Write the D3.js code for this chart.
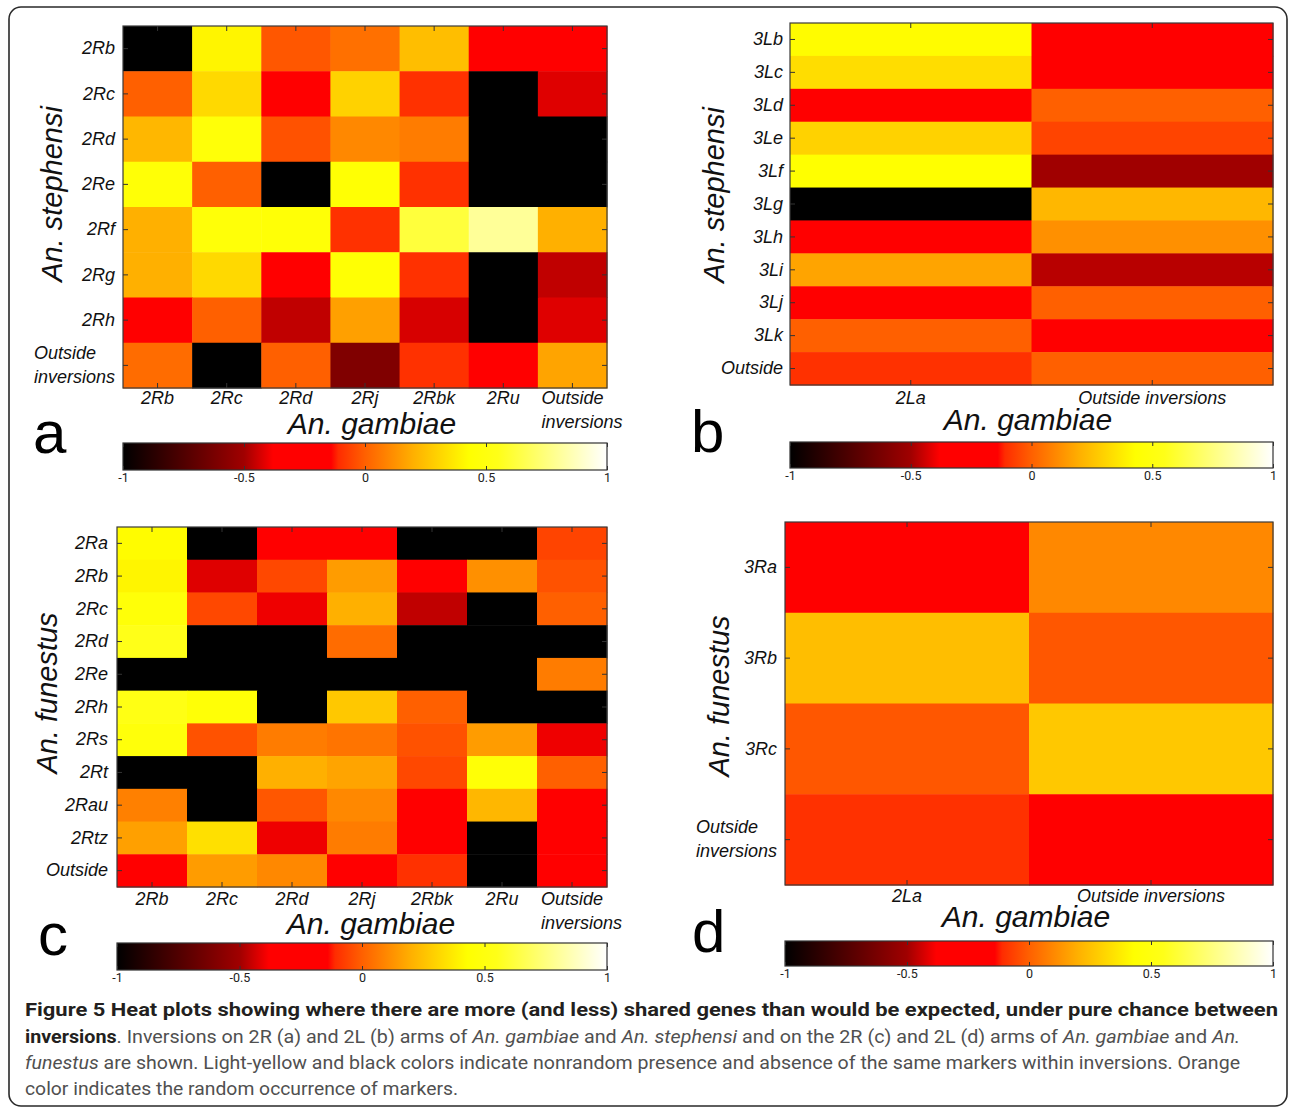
<!DOCTYPE html>
<html>
<head>
<meta charset="utf-8">
<script src="https://cdn.jsdelivr.net/npm/d3@7"></script>
<style>
  body { margin: 0; background: #fff; }
  svg { display: block; }
  .tick-lbl { font-family: Arial, "Liberation Sans", Roboto, sans-serif; font-style: italic; font-size: 18px; fill: #111; }
  .cb-lbl { font-family: "Liberation Sans Narrow", "Roboto", Arial, sans-serif; font-size: 12.5px; fill: #222; }
  .cap { font-family: "Roboto", Arial, sans-serif; font-size: 18px; }
  .big { font-family: Arial, "Liberation Sans", Roboto, sans-serif; }
</style>
</head>
<body>
<div id="chart"></div>
<script>
// ---- data ----
const gambiae2R = ["2Rb", "2Rc", "2Rd", "2Rj", "2Rbk", "2Ru", "Outside\ninversions"];
const gambiae2L = ["2La", "Outside inversions"];

const stephensi2R = ["2Rb", "2Rc", "2Rd", "2Re", "2Rf", "2Rg", "2Rh", "Outside\ninversions"];
const stephensi3L = ["3Lb", "3Lc", "3Ld", "3Le", "3Lf", "3Lg", "3Lh", "3Li", "3Lj", "3Lk", "Outside"];
const funestus2R = ["2Ra", "2Rb", "2Rc", "2Rd", "2Re", "2Rh", "2Rs", "2Rt", "2Rau", "2Rtz", "Outside"];
const funestus3R = ["3Ra", "3Rb", "3Rc", "Outside\ninversions"];

// rows = stephensi / funestus inversions, columns = gambiae inversions
const valuesA = [
  [-1, 0.40, -0.02, 0.04, 0.24, -0.2, -0.2],
  [0.0, 0.32, -0.2, 0.30, -0.1, -1, -0.42],
  [0.22, 0.47, -0.03, 0.1, 0.07, -1, -1],
  [0.46, 0.0, -1, 0.45, -0.1, -1, -1],
  [0.2, 0.47, 0.46, -0.1, 0.62, 0.8, 0.2],
  [0.2, 0.32, -0.2, 0.45, -0.1, -1, -0.46],
  [-0.2, 0.0, -0.46, 0.16, -0.43, -1, -0.42],
  [0.03, -1, 0.0, -0.6, -0.1, -0.2, 0.17]
];
const valuesB = [
  [0.42, -0.2],
  [0.33, -0.2],
  [-0.2, 0.0],
  [0.3, -0.06],
  [0.43, -0.5],
  [-1, 0.22],
  [-0.2, 0.12],
  [0.17, -0.47],
  [-0.2, 0.0],
  [0.0, -0.2],
  [-0.1, 0.0]
];
const valuesC = [
  [0.42, -1, -0.2, -0.2, -1, -1, -0.06],
  [0.40, -0.42, -0.05, 0.15, -0.2, 0.12, -0.03],
  [0.47, -0.05, -0.4, 0.2, -0.46, -1, 0.0],
  [0.55, -1, -1, 0.03, -1, -1, -1],
  [-1, -1, -1, -1, -1, -1, 0.07],
  [0.53, 0.46, -1, 0.27, 0.0, -1, -1],
  [0.48, -0.03, 0.07, 0.05, -0.03, 0.15, -0.4],
  [-1, -1, 0.2, 0.17, -0.05, 0.46, 0.0],
  [0.08, -1, -0.02, 0.1, -0.2, 0.22, -0.2],
  [0.16, 0.34, -0.4, 0.07, -0.2, -1, -0.2],
  [-0.2, 0.15, 0.1, -0.2, -0.1, -1, -0.2]
];
const valuesD = [
  [-0.2, 0.1],
  [0.24, -0.02],
  [-0.02, 0.27],
  [-0.1, -0.2]
];

const colorbarTicks = [-1, -0.5, 0, 0.5, 1];

// colour map as seen on the colour bars
const cmapStops = [-1, -0.5, -0.38, -0.14, -0.11, 0, 0.2, 0.43, 0.55, 1];
const cmapColors = ["#000000", "#a00000", "#ff0000", "#ff0000", "#ff2c00", "#ff6000", "#ffb000", "#ffff00", "#ffff18", "#ffffff"];
const color = d3.scaleLinear().domain(cmapStops).range(cmapColors).clamp(true);

const W = 1290, H = 1109;
const svg = d3.select("#chart").append("svg").attr("width", W).attr("height", H);
svg.append("rect").attr("width", W).attr("height", H).attr("fill", "#fff");

// outer frame
svg.append("rect")
  .attr("x", 9).attr("y", 7).attr("width", 1278).attr("height", 1099)
  .attr("rx", 12).attr("fill", "none").attr("stroke", "#2a2a2a").attr("stroke-width", 1.6);

const defs = svg.append("defs");
const grad = defs.append("linearGradient").attr("id", "cmap");
cmapStops.forEach((s, i) => {
  grad.append("stop").attr("offset", ((s + 1) / 2 * 100) + "%").attr("stop-color", cmapColors[i]);
});

const panels = [
  { letter: "a", rows: stephensi2R, cols: gambiae2R, values: valuesA,
    x0: 123, x1: 607, y0: 26, y1: 388, xPad: 3, yPad: 8,
    yTitle: "An. stephensi", yTitleX: 62, yTitleY: 194, xTitleX: 372, xTitleY: 434,
    letterX: 33, letterY: 453, cb: { x0: 123, x1: 607, y0: 443, y1: 470 } },
  { letter: "b", rows: stephensi3L, cols: gambiae2L, values: valuesB,
    x0: 790, x1: 1273, y0: 23, y1: 385, xPad: 6, yPad: 7,
    yTitle: "An. stephensi", yTitleX: 724, yTitleY: 195, xTitleX: 1028, xTitleY: 430,
    letterX: 691, letterY: 452, cb: { x0: 790, x1: 1273, y0: 442, y1: 468 } },
  { letter: "c", rows: funestus2R, cols: gambiae2R, values: valuesC,
    x0: 117, x1: 607, y0: 527, y1: 887, xPad: 5, yPad: 9,
    yTitle: "An. funestus", yTitleX: 57, yTitleY: 693, xTitleX: 371, xTitleY: 934,
    letterX: 38, letterY: 955, cb: { x0: 117, x1: 607, y0: 943, y1: 970 } },
  { letter: "d", rows: funestus3R, cols: gambiae2L, values: valuesD,
    x0: 785, x1: 1273, y0: 522, y1: 885, xPad: 4, yPad: 8,
    yTitle: "An. funestus", yTitleX: 729, yTitleY: 696, xTitleX: 1026, xTitleY: 927,
    letterX: 692, letterY: 952, cb: { x0: 785, x1: 1273, y0: 941, y1: 966 } }
];

const lineGap = 24;

function splitYLabels(axisG) {
  axisG.selectAll(".tick text").each(function(d) {
    const lines = d.split("\n");
    if (lines.length < 2) return;
    const t = d3.select(this);
    const x = +t.attr("x");
    t.text(null).attr("dy", null);
    lines.forEach((l, i) => {
      t.append("tspan").attr("x", x)
        .attr("y", (i - (lines.length - 1) / 2) * lineGap)
        .attr("dy", "0.32em").text(l);
    });
    // left-align the block so the longest line ends at the tick padding
    const widest = d3.max(t.selectAll("tspan").nodes(), n => n.getComputedTextLength());
    t.attr("text-anchor", "start");
    t.selectAll("tspan").attr("x", x - widest);
  });
}

function splitXLabels(axisG) {
  axisG.selectAll(".tick text").each(function(d) {
    const lines = d.split("\n");
    if (lines.length < 2) return;
    const t = d3.select(this);
    const y = +t.attr("y");
    t.text(null).attr("dy", null);
    lines.forEach((l, i) => {
      t.append("tspan").attr("x", 0).attr("y", y + i * lineGap).attr("dy", "0.71em").text(l);
    });
    const first = t.select("tspan").node().getComputedTextLength();
    t.attr("text-anchor", "start");
    t.selectAll("tspan").attr("x", -first / 2);
  });
}

function drawPanel(p) {
  const g = svg.append("g");
  const x = d3.scaleBand().domain(p.cols).range([p.x0, p.x1]);
  const y = d3.scaleBand().domain(p.rows).range([p.y0, p.y1]);

  const cells = p.values.flatMap((row, i) => row.map((v, j) => ({ r: p.rows[i], c: p.cols[j], v })));
  g.selectAll("rect.cell").data(cells).enter().append("rect")
    .attr("class", "cell")
    .attr("x", d => x(d.c))
    .attr("y", d => y(d.r))
    .attr("width", x.bandwidth() + 0.5)
    .attr("height", y.bandwidth() + 0.5)
    .attr("fill", d => color(d.v));

  g.append("rect")
    .attr("x", p.x0).attr("y", p.y0).attr("width", p.x1 - p.x0).attr("height", p.y1 - p.y0)
    .attr("fill", "none").attr("stroke", "#3a3a3a").attr("stroke-width", 1.2);

  const gl = g.append("g").attr("transform", `translate(${p.x0},0)`)
    .call(d3.axisLeft(y).tickSize(-5).tickPadding(p.yPad));
  const gr = g.append("g").attr("transform", `translate(${p.x1},0)`)
    .call(d3.axisRight(y).tickSize(-5).tickFormat(""));
  const gb = g.append("g").attr("transform", `translate(0,${p.y1})`)
    .call(d3.axisBottom(x).tickSize(-5).tickPadding(p.xPad));
  const gt = g.append("g").attr("transform", `translate(0,${p.y0})`)
    .call(d3.axisTop(x).tickSize(-5).tickFormat(""));

  [gl, gr, gb, gt].forEach(a => {
    a.select(".domain").remove();
    a.selectAll(".tick line").attr("stroke", "#333");
    a.attr("font-size", null).attr("font-family", null);
    a.selectAll(".tick text").attr("class", "tick-lbl");
  });
  splitYLabels(gl);
  splitXLabels(gb);

  g.append("text").attr("class", "big")
    .attr("transform", `translate(${p.yTitleX},${p.yTitleY}) rotate(-90)`)
    .attr("text-anchor", "middle")
    .style("font-style", "italic").style("font-size", "29px").style("fill", "#111")
    .text(p.yTitle);

  g.append("text").attr("class", "big")
    .attr("x", p.xTitleX).attr("y", p.xTitleY)
    .attr("text-anchor", "middle")
    .style("font-style", "italic").style("font-size", "30px").style("fill", "#111")
    .text("An. gambiae");

  g.append("text").attr("class", "big")
    .attr("x", p.letterX).attr("y", p.letterY)
    .style("font-size", "60px").style("fill", "#000")
    .text(p.letter);

  // colour bar
  const cb = p.cb;
  const cbScale = d3.scaleLinear().domain([-1, 1]).range([cb.x0, cb.x1]);
  g.append("rect")
    .attr("x", cb.x0).attr("y", cb.y0).attr("width", cb.x1 - cb.x0).attr("height", cb.y1 - cb.y0)
    .attr("fill", "url(#cmap)").attr("stroke", "#333").attr("stroke-width", 1.2);
  const cbb = g.append("g").attr("transform", `translate(0,${cb.y1})`)
    .call(d3.axisBottom(cbScale).tickValues(colorbarTicks).tickSize(-4).tickPadding(3).tickFormat(d => String(d)));
  const cbt = g.append("g").attr("transform", `translate(0,${cb.y0})`)
    .call(d3.axisTop(cbScale).tickValues(colorbarTicks).tickSize(-4).tickFormat(""));
  [cbb, cbt].forEach(a => {
    a.select(".domain").remove();
    a.selectAll(".tick line").attr("stroke", "#333");
    a.attr("font-size", null).attr("font-family", null);
    a.selectAll(".tick text").attr("class", "cb-lbl");
  });
}

panels.forEach(drawPanel);

// caption
const capX = 25;
svg.append("text").attr("class", "cap")
  .attr("x", capX).attr("y", 1016)
  .attr("textLength", 1253).attr("lengthAdjust", "spacingAndGlyphs")
  .style("font-weight", "bold").style("fill", "#231f20")
  .text("Figure 5 Heat plots showing where there are more (and less) shared genes than would be expected, under pure chance between");

const cap2 = svg.append("text").attr("class", "cap")
  .attr("x", capX).attr("y", 1043)
  .attr("textLength", 1215).attr("lengthAdjust", "spacingAndGlyphs")
  .style("fill", "#505050");
cap2.append("tspan").style("font-weight", "bold").style("fill", "#231f20").text("inversions");
cap2.append("tspan").text(". Inversions on 2R (a) and 2L (b) arms of ");
cap2.append("tspan").style("font-style", "italic").text("An. gambiae");
cap2.append("tspan").text(" and ");
cap2.append("tspan").style("font-style", "italic").text("An. stephensi");
cap2.append("tspan").text(" and on the 2R (c) and 2L (d) arms of ");
cap2.append("tspan").style("font-style", "italic").text("An. gambiae");
cap2.append("tspan").text(" and ");
cap2.append("tspan").style("font-style", "italic").text("An.");

const cap3 = svg.append("text").attr("class", "cap")
  .attr("x", capX).attr("y", 1069)
  .attr("textLength", 1215).attr("lengthAdjust", "spacingAndGlyphs")
  .style("fill", "#505050");
cap3.append("tspan").style("font-style", "italic").text("funestus");
cap3.append("tspan").text(" are shown. Light-yellow and black colors indicate nonrandom presence and absence of the same markers within inversions. Orange");

svg.append("text").attr("class", "cap")
  .attr("x", capX).attr("y", 1095)
  .attr("textLength", 433).attr("lengthAdjust", "spacingAndGlyphs")
  .style("fill", "#505050")
  .text("color indicates the random occurrence of markers.");
</script>
</body>
</html>
